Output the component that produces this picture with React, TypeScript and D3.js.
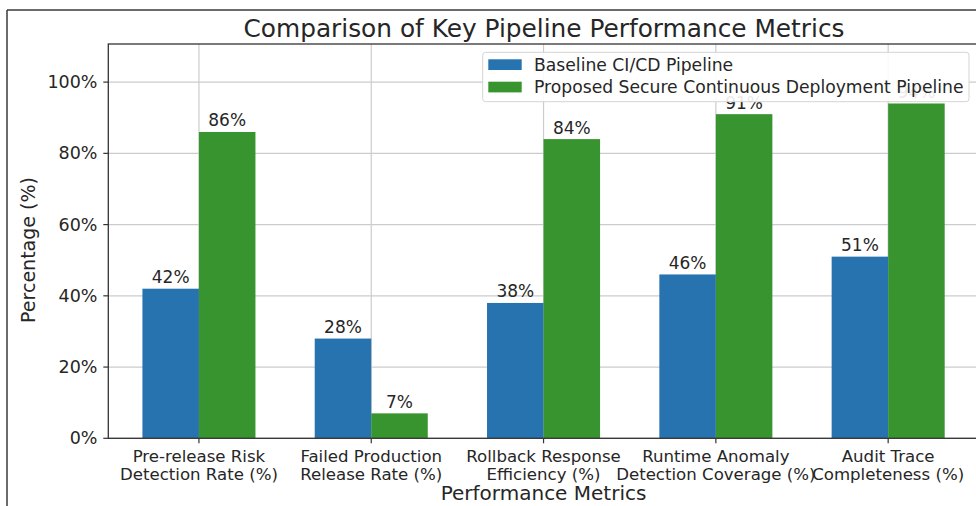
import React from "react";
import * as d3 from "d3";

// Metric categories (two-line tick labels)
const categories: string[][] = [
  ["Pre-release Risk", "Detection Rate (%)"],
  ["Failed Production", "Release Rate (%)"],
  ["Rollback Response", "Efficiency (%)"],
  ["Runtime Anomaly", "Detection Coverage (%)"],
  ["Audit Trace", "Completeness (%)"],
];

const seriesNames = ["Baseline CI/CD Pipeline", "Proposed Secure Continuous Deployment Pipeline"];
const baselineValues = [42, 28, 38, 46, 51];
const proposedValues = [86, 7, 84, 91, 94];
const yTicks = [0, 20, 40, 60, 80, 100];

const W = 976;
const H = 506;
const FONT = "'DejaVu Sans', Verdana, sans-serif";
const TEXT = "#262626";
const BLUE = "#2673b0";
const GREEN = "#37942f";

// plot box
const left = 108.3;
const top = 44;
const bottom = 438.3;
const right = 978.8;

const BAR_W = 0.328;

export default function App() {
  const x = d3.scaleLinear().domain([-0.526, 4.526]).range([left, right]);
  const y = d3.scaleLinear().domain([0, 110.7]).range([bottom, top]);
  const bw = x(BAR_W) - x(0);
  const fmt = (v: number) => `${v}%`;

  const series = [
    { name: seriesNames[0], values: baselineValues, color: BLUE, off: -BAR_W / 2 },
    { name: seriesNames[1], values: proposedValues, color: GREEN, off: BAR_W / 2 },
  ];

  return (
    <div style={{ position: "absolute", left: 0, top: 0 }}>
      <svg width={W} height={H} style={{ display: "block", background: "#fff" }} fontFamily={FONT}>
        <rect x={0} y={0} width={W} height={H} fill="#fff" />
        {/* figure frame */}
        <line x1={7} y1={10} x2={7} y2={H} stroke="#3a3a3a" strokeWidth={1.5} />
        <line x1={7} y1={10} x2={W} y2={10} stroke="#3a3a3a" strokeWidth={1.5} />

        <defs>
          <clipPath id="plotClip">
            <rect x={left} y={top} width={right - left} height={bottom - top} />
          </clipPath>
        </defs>

        {/* grid */}
        <g stroke="#cccccc" strokeWidth={1.2}>
          {yTicks.map((t) => (
            <line key={"gy" + t} x1={left} x2={right} y1={y(t)} y2={y(t)} />
          ))}
          {categories.map((_, i) => (
            <line key={"gx" + i} x1={x(i)} x2={x(i)} y1={top} y2={bottom} />
          ))}
        </g>

        {/* bars */}
        <g clipPath="url(#plotClip)">
          {series.map((s) =>
            s.values.map((v, i) => (
              <rect
                key={s.name + i}
                x={x(i + s.off) - bw / 2}
                y={y(v)}
                width={bw}
                height={y(0) - y(v)}
                fill={s.color}
              />
            ))
          )}
        </g>

        {/* value labels */}
        <g fontSize={17} fill={TEXT} textAnchor="middle">
          {series.map((s) =>
            s.values.map((v, i) => (
              <text key={"l" + s.name + i} x={x(i + s.off)} y={y(v) - 5.5}>
                {fmt(v)}
              </text>
            ))
          )}
        </g>

        {/* spines */}
        <rect x={left} y={top} width={right - left} height={bottom - top} fill="none" stroke="#333" strokeWidth={1.3} />

        {/* y axis */}
        <g fontSize={17.5} fill={TEXT}>
          {yTicks.map((t) => (
            <g key={"yt" + t}>
              <line x1={left - 5} x2={left} y1={y(t)} y2={y(t)} stroke="#333" strokeWidth={1.2} />
              <text x={97.5} y={y(t)} textAnchor="end" dominantBaseline="central">
                {fmt(t)}
              </text>
            </g>
          ))}
        </g>

        {/* x axis */}
        <g fontSize={16.6} fill={TEXT} textAnchor="middle">
          {categories.map((lines, i) => (
            <g key={"xt" + i}>
              <line x1={x(i)} x2={x(i)} y1={bottom} y2={bottom + 5} stroke="#333" strokeWidth={1.2} />
              {lines.map((ln, k) => (
                <text key={k} x={x(i)} y={461.7 + k * 18.4}>
                  {ln}
                </text>
              ))}
            </g>
          ))}
        </g>

        {/* axis titles */}
        <text x={(left + right) / 2} y={500} fontSize={20} fill={TEXT} textAnchor="middle">
          Performance Metrics
        </text>
        <text transform="translate(35,250) rotate(-90)" fontSize={19} fill={TEXT} textAnchor="middle">
          Percentage (%)
        </text>
        <text x={544} y={36.5} fontSize={24.8} fill={TEXT} textAnchor="middle">
          Comparison of Key Pipeline Performance Metrics
        </text>

        {/* legend */}
        <g>
          <rect x={482.7} y={52.3} width={486.3} height={49.4} rx={3} fill="#fff" fillOpacity={0.9} stroke="#d4d4d4" strokeWidth={1} />
          {series.map((s, k) => (
            <g key={"lg" + k}>
              <rect x={488.3} y={59.3 + k * 22.4} width={33.4} height={10.7} fill={s.color} />
              <text x={534} y={64.8 + k * 22.4} fontSize={17.2} fill={TEXT} dominantBaseline="central">
                {s.name}
              </text>
            </g>
          ))}
        </g>
      </svg>
    </div>
  );
}
